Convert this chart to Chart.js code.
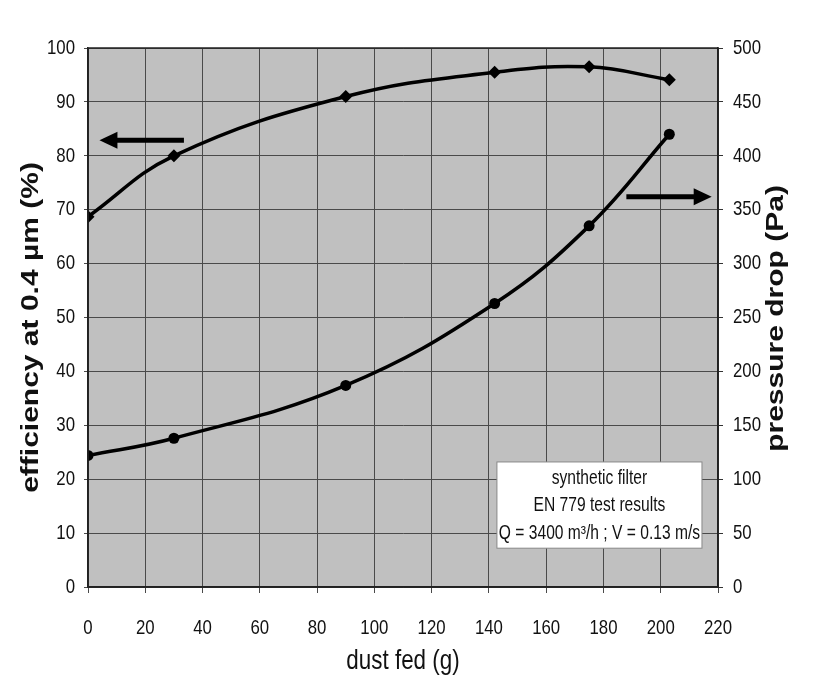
<!DOCTYPE html>
<html>
<head>
<meta charset="utf-8">
<script src="https://cdn.jsdelivr.net/npm/chart.js@4/dist/chart.umd.min.js"></script>
<style>
  html, body { margin: 0; padding: 0; background: #ffffff; }
  #wrap { width: 829px; height: 695px; }
</style>
</head>
<body>
<div id="wrap"><canvas id="c" width="829" height="695"></canvas></div>
<script>
// ---- data ----
const dustFed = [0, 30, 90, 142, 175, 203];                 // g
const efficiency = [68.7, 80.0, 91.0, 95.5, 96.5, 94.1];    // % at 0.4 µm
const pressureDrop = [122, 138, 187, 263, 335, 420];        // Pa

const xTicks = [0, 20, 40, 60, 80, 100, 120, 140, 160, 180, 200, 220];
const effTicks = [0, 10, 20, 30, 40, 50, 60, 70, 80, 90, 100];
const paTicks = [0, 50, 100, 150, 200, 250, 300, 350, 400, 450, 500];

const infoLines = ['synthetic filter', 'EN 779 test results', 'Q = 3400 m\u00B3/h ; V = 0.13 m/s'];
const leftTitle = 'efficiency at 0.4 \u00B5m (%)';
const rightTitle = 'pressure drop (Pa)';

const FONT = "'Liberation Sans', Arial, sans-serif";

// The reference typography is horizontally condensed (narrow face);
// emulate it by compressing every text draw horizontally in screen space.
const canvas = document.getElementById('c');
const ctx0 = canvas.getContext('2d');
const origFillText = ctx0.fillText;
const SQUEEZE = 0.8;
ctx0.fillText = function (text, x, y, maxWidth) {
  const m = this.getTransform();
  const p = m.transformPoint(new DOMPoint(x, y));
  this.save();
  this.setTransform(new DOMMatrix().translate(p.x, p.y).scale(SQUEEZE, 1).translate(-p.x, -p.y).multiply(m));
  if (maxWidth !== undefined) origFillText.call(this, text, x, y, maxWidth / SQUEEZE);
  else origFillText.call(this, text, x, y);
  this.restore();
};

const plotDecor = {
  id: 'plotDecor',
  beforeDraw(chart) {
    const {ctx, chartArea: a} = chart;
    ctx.save();
    ctx.fillStyle = '#c0c0c0';
    ctx.fillRect(a.left, a.top, a.right - a.left, a.bottom - a.top);
    ctx.restore();
  },
  afterDatasetsDraw(chart) {
    const {ctx, chartArea: a, scales} = chart;
    const xs = scales.x, ys = scales.y;
    ctx.save();
    // frame
    ctx.strokeStyle = '#222';
    ctx.lineWidth = 1.5;
    ctx.strokeRect(a.left, a.top, a.right - a.left, a.bottom - a.top);

    // arrows (data coordinates)
    function arrow(x0, x1, yv, dir) {
      const px0 = xs.getPixelForValue(x0), px1 = xs.getPixelForValue(x1);
      const py = ys.getPixelForValue(yv);
      const head = 18, half = 8.5;
      ctx.strokeStyle = '#000';
      ctx.fillStyle = '#000';
      ctx.lineWidth = 5;
      ctx.beginPath();
      if (dir < 0) { ctx.moveTo(px0 + head - 2, py); ctx.lineTo(px1, py); }
      else { ctx.moveTo(px0, py); ctx.lineTo(px1 - head + 2, py); }
      ctx.stroke();
      ctx.beginPath();
      if (dir < 0) { ctx.moveTo(px0, py); ctx.lineTo(px0 + head, py - half); ctx.lineTo(px0 + head, py + half); }
      else { ctx.moveTo(px1, py); ctx.lineTo(px1 - head, py - half); ctx.lineTo(px1 - head, py + half); }
      ctx.closePath();
      ctx.fill();
    }
    arrow(4, 33.5, 82.9, -1);
    arrow(188, 217.8, 72.4, 1);

    // info box
    const bx0 = xs.getPixelForValue(142.8), bx1 = xs.getPixelForValue(214.4);
    const by0 = ys.getPixelForValue(23.2), by1 = ys.getPixelForValue(7.2);
    ctx.fillStyle = '#ffffff';
    ctx.fillRect(bx0, by0, bx1 - bx0, by1 - by0);
    ctx.strokeStyle = '#888';
    ctx.lineWidth = 1;
    ctx.strokeRect(bx0, by0, bx1 - bx0, by1 - by0);
    ctx.fillStyle = '#111';
    ctx.font = '19.5px ' + FONT;
    ctx.textAlign = 'center';
    ctx.textBaseline = 'middle';
    const cx = (bx0 + bx1) / 2;
    const lh = (by1 - by0) / 3.15;
    infoLines.forEach((t, i) => ctx.fillText(t, cx, by0 + lh * (i + 0.6)));
    ctx.restore();
  },
  afterDraw(chart) {
    const {ctx, chartArea: a} = chart;
    const midY = (a.top + a.bottom) / 2;
    ctx.save();
    ctx.fillStyle = '#111';
    ctx.font = 'bold 30px ' + FONT;
    ctx.textAlign = 'center';
    ctx.textBaseline = 'middle';
    // left axis title (reads bottom to top)
    ctx.save();
    ctx.translate(31, midY + 10);
    ctx.rotate(-Math.PI / 2);
    ctx.fillText(leftTitle, 0, 0);
    ctx.restore();
    // right axis title (also reads bottom to top in the reference)
    ctx.save();
    ctx.translate(776, midY + 1);
    ctx.rotate(-Math.PI / 2);
    ctx.fillText(rightTitle, 0, 0);
    ctx.restore();
    ctx.restore();
  }
};

new Chart(canvas, {
  type: 'line',
  data: {
    datasets: [
      {
        label: 'efficiency',
        data: dustFed.map((x, i) => ({x, y: efficiency[i]})),
        yAxisID: 'y',
        borderColor: '#000',
        backgroundColor: '#000',
        borderWidth: 3.5,
        tension: 0.4,
        pointStyle: 'rectRot',
        pointRadius: 6.5,
        pointBorderWidth: 0
      },
      {
        label: 'pressure drop',
        data: dustFed.map((x, i) => ({x, y: pressureDrop[i]})),
        yAxisID: 'y2',
        borderColor: '#000',
        backgroundColor: '#000',
        borderWidth: 3.5,
        tension: 0.4,
        pointStyle: 'circle',
        pointRadius: 5.5,
        pointBorderWidth: 0
      }
    ]
  },
  options: {
    responsive: false,
    animation: false,
    devicePixelRatio: 1,
    layout: { padding: { left: 8, right: 22, top: 48, bottom: 8 } },
    plugins: { legend: { display: false }, tooltip: { enabled: false } },
    scales: {
      x: {
        type: 'linear',
        min: 0, max: 220,
        afterBuildTicks(s) { s.ticks = xTicks.map(v => ({value: v})); },
        afterFit(s) { s.height = 100; },
        grid: { color: '#4a4a4a', lineWidth: 1, tickLength: 6, drawTicks: true },
        border: { color: '#222', width: 1.5 },
        ticks: { color: '#111', font: { family: FONT, size: 21 }, padding: 23, maxRotation: 0 },
        title: { display: true, text: 'dust fed (g)', color: '#111', font: { family: FONT, size: 28 }, padding: { top: 0, bottom: 9 } }
      },
      y: {
        type: 'linear', position: 'left',
        min: 0, max: 100,
        afterBuildTicks(s) { s.ticks = effTicks.map(v => ({value: v})); },
        afterFit(s) { s.width = 80; },
        grid: { color: '#4a4a4a', lineWidth: 1, tickLength: 4 },
        border: { color: '#222', width: 1.5 },
        ticks: { color: '#111', font: { family: FONT, size: 21 }, padding: 9 },
        title: { display: false }
      },
      y2: {
        type: 'linear', position: 'right',
        min: 0, max: 500,
        afterBuildTicks(s) { s.ticks = paTicks.map(v => ({value: v})); },
        afterFit(s) { s.width = 89; },
        grid: { drawOnChartArea: false, color: '#333', tickLength: 5 },
        border: { color: '#222', width: 1.5 },
        ticks: { color: '#111', font: { family: FONT, size: 21 }, padding: 10 },
        title: { display: false }
      }
    }
  },
  plugins: [plotDecor]
});
</script>
</body>
</html>
